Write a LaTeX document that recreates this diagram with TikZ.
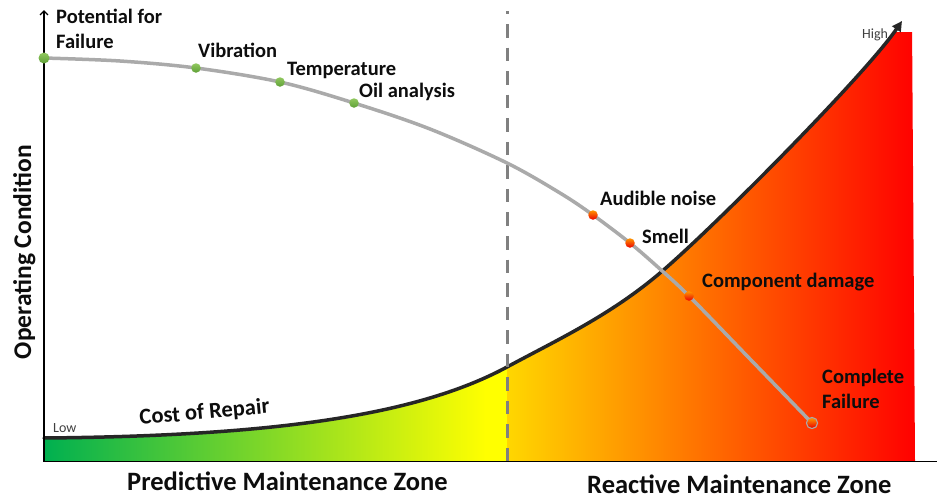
\documentclass[tikz,border=0pt]{standalone}
\usepackage{fontspec}
\setmainfont{Carlito}
\usetikzlibrary{arrows.meta}

\definecolor{zgreen}{RGB}{0,176,80}
\definecolor{zyellow}{RGB}{255,255,0}
\definecolor{zgold}{RGB}{255,215,0}
\definecolor{zred}{RGB}{255,0,0}
\definecolor{costline}{RGB}{38,38,38}
\definecolor{failline}{RGB}{170,170,170}
\definecolor{zonedash}{RGB}{128,128,128}
\definecolor{inktext}{RGB}{13,13,13}
\definecolor{softtext}{RGB}{64,64,64}
\definecolor{dotorange}{RGB}{255,150,0}
\definecolor{dotred}{RGB}{235,0,0}
\definecolor{dotmid}{RGB}{245,60,0}

\begin{document}
\begin{tikzpicture}[x=1pt,y=-1pt,
  lbl/.style={font=\fontsize{20.5}{25}\selectfont\bfseries, text=inktext, inner sep=0pt, anchor=base west},
  zonelbl/.style={font=\fontsize{26.5}{30}\selectfont\bfseries, text=inktext, inner sep=0pt, anchor=base west},
  endlbl/.style={font=\fontsize{14}{16}\selectfont, text=softtext, inner sep=0pt, anchor=base west},
  gdot/.style={circle, inner sep=0pt, minimum size=9.5pt, top color={rgb,255:red,145;green,200;blue,95}, bottom color={rgb,255:red,95;green,160;blue,55}, draw=none},
  rdot/.style={circle, inner sep=0pt, minimum size=9.5pt, top color=dotorange, bottom color=dotred, draw=none},
  axisline/.style={draw=black, line width=1.4pt}
]
\useasboundingbox (0,0) rectangle (937,498);
\fill[white] (0,0) rectangle (937,498);

% axis anchor points
\coordinate (origin) at (44,461.5);
\coordinate (ytop) at (44,10);
\coordinate (xend) at (937,461.5);
\coordinate (dashtop) at (507,11);
\coordinate (dashbot) at (507,461);
\coordinate (costlow) at (44,438);
\coordinate (costmid) at (507,367);
\coordinate (costknee) at (660,273);
\coordinate (costhigh) at (902,21);

% coloured area under the cost-of-repair curve
\begin{scope}
  \clip (0,32) rectangle (937,462);
  \clip (44,461) -- (costlow)
        .. controls (280,436) and (420,414) .. (costmid)
        .. controls (557,340) and (610,315.5) .. (costknee)
        .. controls (712,229) and (865,75) .. (costhigh)
        -- (912,21) -- (915,461) -- cycle;
  \shade[left color=zgreen, right color=zyellow] (44,0) rectangle (486,462);
  \fill[zyellow] (485,0) rectangle (507.5,462);
  \shade[left color=zgold, right color=zred] (507,0) rectangle (916,462);
\end{scope}

% cost of repair curve
\draw[costline, line width=3.5pt, line cap=round, -{Triangle[length=10pt, width=10pt]}]
  (costlow) .. controls (280,436) and (420,414) .. (costmid)
            .. controls (557,340) and (610,315.5) .. (costknee)
            .. controls (712,229) and (865,75) .. (costhigh);

% boundary between the two zones
\draw[zonedash, line width=3pt, dash pattern=on 13.5pt off 10.05pt, dash phase=10.5pt] (dashtop) -- (dashbot);

% axes
\draw[axisline] (origin) -- (xend);
\draw[axisline, -{Straight Barb[length=4pt, width=8pt]}] (origin) -- (ytop);

% potential-for-failure curve
\draw[failline, line width=3.5pt, line cap=round]
  plot[smooth, tension=0.55] coordinates {(44,58) (120,61) (196,68) (280,82) (354,103) (430,129) (507,163) (560,193) (593,215) (630,243) (660,269) (689,296) (750,359) (812,423)};

% warning signs along the curve
\node[gdot, minimum size=11pt] (start) at (44,58) {};
\node[gdot] (vib) at (196,68) {};
\node[gdot] (temp) at (280,82) {};
\node[gdot] (oil) at (354,103) {};
\node[rdot] (noise) at (593,215) {};
\node[rdot] (smell) at (630,243) {};
\node[rdot] (damage) at (689,296) {};
\fill[dotmid] (812,423) circle (5.2pt);
\node[rdot, minimum size=10pt] (fail) at (812,423) {};
\draw[failline, line width=1.1pt] (fail.center) circle (5.6pt);

% labels
\node[lbl] (lpot) at (56,23) {\begin{tabular}[t]{@{}l@{}}Potential for\\Failure\end{tabular}};
\node[lbl] (lvib) at (198,57) {Vibration};
\node[lbl] (ltemp) at (287,75) {Temperature};
\node[lbl] (loil) at (359,97) {Oil analysis};
\node[lbl] (lnoise) at (600,205) {Audible noise};
\node[lbl] (lsmell) at (642,243) {Smell};
\node[lbl] (ldamage) at (702,287) {Component damage};
\node[lbl] (lfail) at (822,383) {\begin{tabular}[t]{@{}l@{}}Complete\\Failure\end{tabular}};

\node[endlbl] (lhigh) at (862,38) {High};
\node[endlbl] (llow) at (53,432) {Low};

\node[lbl, font=\fontsize{22.5}{26}\selectfont\bfseries, rotate=5.2] (lcost) at (140,425) {Cost of Repair};

\node[font=\fontsize{25.5}{29}\selectfont\bfseries, text=inktext, inner sep=0pt, anchor=base, rotate=90] (lyaxis) at (31,252) {Operating Condition};

\node[zonelbl] (lpred) at (127,490) {Predictive Maintenance Zone};
\node[zonelbl] (lreact) at (587,493) {Reactive Maintenance Zone};
\end{tikzpicture}
\end{document}
